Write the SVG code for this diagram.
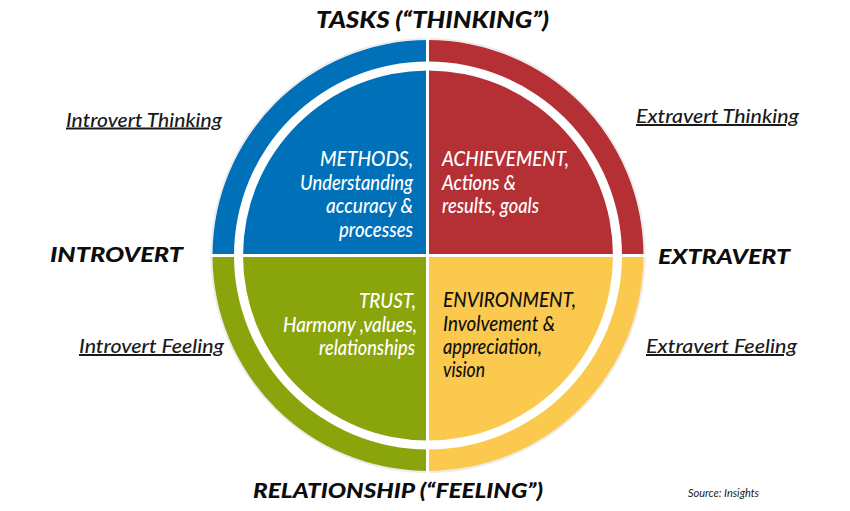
<svg xmlns="http://www.w3.org/2000/svg" width="850" height="511" viewBox="0 0 850 511">
<style>
.q{font-family:Lato,"Open Sans","Liberation Sans",sans-serif;font-style:italic;font-weight:500;font-size:21px;}
.w{fill:#ffffff;}
.k{fill:#111111;}
.r{text-anchor:end;}
.lbl{font-family:Lato,"Open Sans","Liberation Sans",sans-serif;font-style:italic;font-weight:500;font-size:20px;fill:#1a1a1a;text-decoration:underline;}
.big{font-family:Lato,"Open Sans","Liberation Sans",sans-serif;font-style:italic;font-weight:900;fill:#0d0d0d;}
.div{stroke:#ffffff;stroke-width:3;fill:none;}
</style>
<rect width="850" height="511" fill="#ffffff"/>
<circle cx="428" cy="255.5" r="216.5" fill="none" stroke="#ececec" stroke-width="2"/>
<g id="ring">
<path d="M212.5,255.5 A215.5,215.5 0 0 1 428,40 L428,61.5 A194,194 0 0 0 234,255.5 Z" fill="#0070b9"/>
<path d="M428,40 A215.5,215.5 0 0 1 643.5,255.5 L622,255.5 A194,194 0 0 0 428,61.5 Z" fill="#b53035"/>
<path d="M643.5,255.5 A215.5,215.5 0 0 1 428,471 L428,449.5 A194,194 0 0 0 622,255.5 Z" fill="#fcc94f"/>
<path d="M428,471 A215.5,215.5 0 0 1 212.5,255.5 L234,255.5 A194,194 0 0 0 428,449.5 Z" fill="#8aa40c"/>
</g>
<g id="methods">
<path d="M428,255.5 L243,255.5 A185,185 0 0 1 428,70.5 Z" fill="#0070b9"/>
<text class="q w r" x="413" y="166" textLength="93" lengthAdjust="spacingAndGlyphs">METHODS,</text>
<text class="q w r" x="413" y="189.5" textLength="113" lengthAdjust="spacingAndGlyphs">Understanding</text>
<text class="q w r" x="413" y="213" textLength="87" lengthAdjust="spacingAndGlyphs">accuracy &amp;</text>
<text class="q w r" x="413" y="236.5" textLength="74" lengthAdjust="spacingAndGlyphs">processes</text>
</g>
<g id="achievement">
<path d="M428,255.5 L428,70.5 A185,185 0 0 1 613,255.5 Z" fill="#b53035"/>
<text class="q w" x="442" y="166" textLength="127" lengthAdjust="spacingAndGlyphs">ACHIEVEMENT,</text>
<text class="q w" x="442" y="189.5" textLength="74" lengthAdjust="spacingAndGlyphs">Actions &amp;</text>
<text class="q w" x="442" y="213" textLength="97" lengthAdjust="spacingAndGlyphs">results, goals</text>
</g>
<g id="trust">
<path d="M428,255.5 L428,440.5 A185,185 0 0 1 243,255.5 Z" fill="#8aa40c"/>
<text class="q w r" x="416" y="308" textLength="57" lengthAdjust="spacingAndGlyphs">TRUST,</text>
<text class="q w r" x="417" y="331.5" textLength="134" lengthAdjust="spacingAndGlyphs">Harmony ,values,</text>
<text class="q w r" x="415" y="354.5" textLength="96" lengthAdjust="spacingAndGlyphs">relationships</text>
</g>
<g id="environment">
<path d="M428,255.5 L613,255.5 A185,185 0 0 1 428,440.5 Z" fill="#fcc94f"/>
<text class="q k" x="443" y="307" textLength="133" lengthAdjust="spacingAndGlyphs">ENVIRONMENT,</text>
<text class="q k" x="443" y="330.5" textLength="112" lengthAdjust="spacingAndGlyphs">Involvement &amp;</text>
<text class="q k" x="443" y="354" textLength="99" lengthAdjust="spacingAndGlyphs">appreciation,</text>
<text class="q k" x="443" y="377" textLength="42" lengthAdjust="spacingAndGlyphs">vision</text>
</g>
<g id="connectors">
<line class="div" x1="427.5" y1="38" x2="427.5" y2="473"/>
<line class="div" x1="210" y1="255.5" x2="646" y2="255.5"/>
</g>
<g id="tasks"><text class="big" x="316" y="28" font-size="22" textLength="233" lengthAdjust="spacingAndGlyphs">TASKS (“THINKING”)</text></g>
<g id="relationship"><text class="big" x="253" y="498" font-size="21" textLength="290" lengthAdjust="spacingAndGlyphs">RELATIONSHIP (“FEELING”)</text></g>
<g id="introvert"><text class="big" x="50" y="262" font-size="20" textLength="133" lengthAdjust="spacingAndGlyphs">INTROVERT</text></g>
<g id="extravert"><text class="big" x="658" y="264" font-size="20" textLength="132" lengthAdjust="spacingAndGlyphs">EXTRAVERT</text></g>
<g id="introvert-thinking"><text class="lbl" x="66" y="126.5" textLength="156" lengthAdjust="spacingAndGlyphs">Introvert Thinking</text></g>
<g id="introvert-feeling"><text class="lbl" x="79" y="353" textLength="145" lengthAdjust="spacingAndGlyphs">Introvert Feeling</text></g>
<g id="extravert-thinking"><text class="lbl" x="636" y="123" textLength="163" lengthAdjust="spacingAndGlyphs">Extravert Thinking</text></g>
<g id="extravert-feeling"><text class="lbl" x="646" y="353" textLength="151" lengthAdjust="spacingAndGlyphs">Extravert Feeling</text></g>
<g id="source"><text x="688" y="497" font-family="Lato,'Open Sans','Liberation Sans',sans-serif" font-style="italic" font-size="11" fill="#222222" textLength="71" lengthAdjust="spacingAndGlyphs">Source: Insights</text></g>
</svg>
